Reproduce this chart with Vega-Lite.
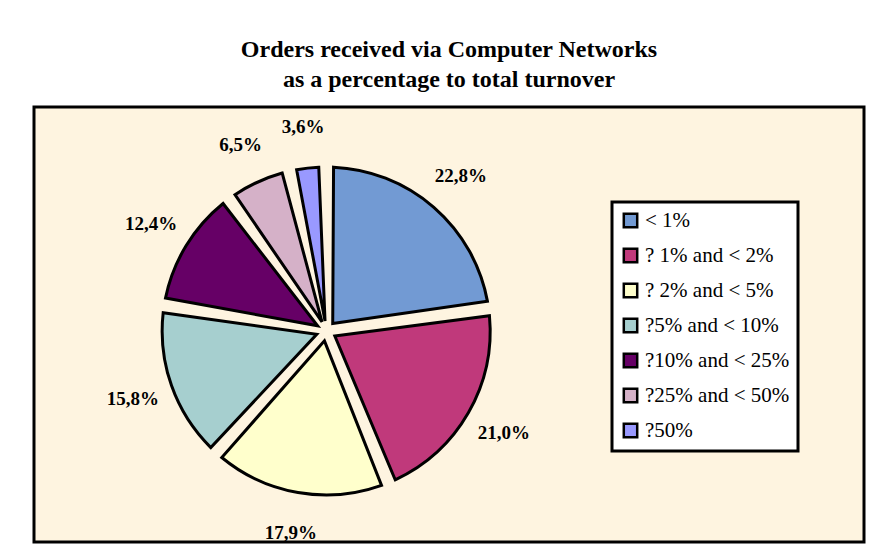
{
  "$schema": "https://vega.github.io/schema/vega-lite/v6.json",
  "width": 830,
  "height": 435,
  "autosize": {"type": "none"},
  "padding": {"left": 34, "top": 107, "right": 9, "bottom": 14},
  "background": "white",
  "view": {"fill": "#FEF4E0", "stroke": "black", "strokeWidth": 3},
  "title": {
    "text": ["Orders received via Computer Networks", "as a percentage to total turnover"],
    "font": "Liberation Serif",
    "fontSize": 24,
    "fontWeight": "bold",
    "lineHeight": 30,
    "color": "black",
    "anchor": "middle",
    "offset": 15
  },
  "data": {
    "values": [
      {"idx": 1, "category": "< 1%", "value": 22.8, "label": "22,8%"},
      {"idx": 2, "category": "? 1% and <  2%", "value": 21.0, "label": "21,0%"},
      {"idx": 3, "category": "? 2% and < 5%", "value": 17.9, "label": "17,9%"},
      {"idx": 4, "category": "?5% and < 10%", "value": 15.8, "label": "15,8%"},
      {"idx": 5, "category": "?10% and < 25%", "value": 12.4, "label": "12,4%"},
      {"idx": 6, "category": "?25% and < 50%", "value": 6.5, "label": "6,5%"},
      {"idx": 7, "category": "?50%", "value": 3.6, "label": "3,6%"}
    ]
  },
  "encoding": {
    "theta": {"field": "value", "type": "quantitative", "stack": true},
    "order": {"field": "idx", "type": "quantitative", "sort": "ascending"}
  },
  "layer": [
    {
      "mark": {
        "type": "arc",
        "x": {"expr": "width * 0.352"},
        "y": {"expr": "height * 0.515"},
        "outerRadius": 164,
        "innerRadius": 10,
        "padAngle": 0.09,
        "stroke": "black",
        "strokeWidth": 3,
        "strokeJoin": "miter"
      },
      "encoding": {
        "color": {
          "field": "category",
          "type": "nominal",
          "sort": null,
          "scale": {
            "domain": ["< 1%", "? 1% and <  2%", "? 2% and < 5%", "?5% and < 10%", "?10% and < 25%", "?25% and < 50%", "?50%"],
            "range": ["#729AD3", "#C0397B", "#FFFFCC", "#A6CFCF", "#660066", "#D5B1C8", "#9999FF"]
          },
          "legend": {
            "title": null,
            "orient": "none",
            "legendX": 578,
            "legendY": 95,
            "fillColor": "white",
            "strokeColor": "black",
            "padding": 8,
            "rowPadding": 10,
            "symbolType": "square",
            "symbolSize": 180,
            "symbolStrokeColor": "black",
            "symbolStrokeWidth": 2.5,
            "symbolOpacity": 1,
            "labelFont": "Liberation Serif",
            "labelFontSize": 21,
            "labelColor": "black",
            "labelOffset": 4,
            "labelLimit": 400,
            "encode": {
              "legend": {"update": {"strokeWidth": {"value": 3}}}
            }
          }
        }
      }
    },
    {
      "mark": {
        "type": "text",
        "x": {"expr": "width * 0.352"},
        "y": {"expr": "height * 0.515"},
        "radius": 205,
        "font": "Liberation Serif",
        "fontSize": 19,
        "fontWeight": "bold",
        "color": "black",
        "align": "center",
        "baseline": "middle"
      },
      "encoding": {
        "text": {"field": "label", "type": "nominal"}
      }
    }
  ]
}
